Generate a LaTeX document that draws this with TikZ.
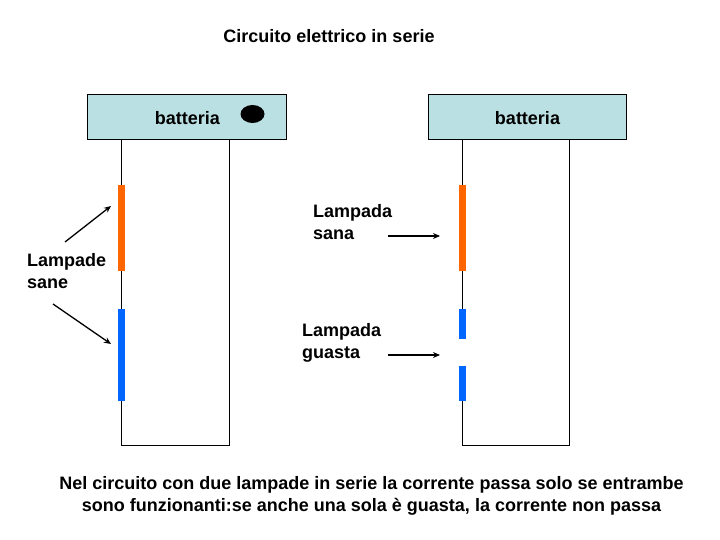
\documentclass[tikz,border=0pt]{standalone}
\usepackage{fontspec}
\setmainfont{Liberation Sans}
\usetikzlibrary{arrows.meta,shapes.geometric}
\definecolor{batfill}{RGB}{187,224,227}
\definecolor{lamporange}{RGB}{255,102,0}
\definecolor{lampblue}{RGB}{0,102,255}
\tikzset{
  x=1pt,y=-1pt,
  batbox/.style={draw=black,line width=0.9pt,fill=batfill,minimum width=#1,minimum height=45pt,inner sep=0pt},
  battxt/.style={font=\fontsize{18}{19}\selectfont\bfseries,inner sep=0pt},
  wire/.style={draw=black,line width=0.9pt},
  lampa/.style={fill=#1,draw=none,minimum width=7pt,inner sep=0pt},
  ptr/.style={draw=black,line width=1.3pt,-{Stealth[length=7pt,width=6pt]}},
  lab/.style={font=\fontsize{18}{22}\selectfont\bfseries,align=left,inner sep=0pt},
  txt/.style={font=\fontsize{18}{21.5}\selectfont\bfseries,align=center,inner sep=0pt}
}
\begin{document}
\begin{tikzpicture}
\useasboundingbox (0,0) rectangle (720,540);
% wires behind
\coordinate (lt) at (121.5,139);
\coordinate (lb) at (121.5,445);
\coordinate (lr) at (229,445);
\coordinate (lrt) at (229,139);
\coordinate (rt) at (462.5,139);
\coordinate (rb) at (462.5,445);
\coordinate (rr) at (569.5,445);
\coordinate (rrt) at (569.5,139);
\draw[wire] (lt) -- (lb) -- (lr) -- (lrt);
\draw[wire] (rt) -- (rb) -- (rr) -- (rrt);
\fill[white] (455,339) rectangle (470,366);
\node[batbox=199pt] (bat1) at (187,116.5) {};
\node[battxt] (bat1t) at (187.5,118) {batteria};
\node[batbox=198pt] (bat2) at (527.5,116.5) {};
\node[battxt] (bat2t) at (527.5,118) {batteria};
\node[ellipse,fill=black,minimum width=24pt,minimum height=18pt,inner sep=0pt] (dot) at (252.5,114) {};
\node[lampa=lamporange,minimum height=86pt] (l1) at (121.5,228) {};
\node[lampa=lampblue,minimum height=92pt] (l2) at (121.5,355) {};
\node[lampa=lamporange,minimum height=86pt] (r1) at (462.5,228) {};
\node[lampa=lampblue,minimum height=30pt] (r2) at (462.5,324) {};
\node[lampa=lampblue,minimum height=35pt] (r3) at (462.5,383.5) {};
\node[txt] (title) at (329,36) {Circuito elettrico in serie};
\node[lab,anchor=north west] (sane) at (27,253) {Lampade\\sane};
\node[lab,anchor=north west] (sana) at (313,204) {Lampada\\sana};
\node[lab,anchor=north west] (guasta) at (302,323) {Lampada\\guasta};
\node[txt] (note) at (371.5,496) {Nel circuito con due lampade in serie la corrente passa solo se entrambe\\sono funzionanti:se anche una sola è guasta, la corrente non passa};
\coordinate (a1s) at (65,242);
\coordinate (a1e) at (111,206);
\coordinate (a2s) at (53,304);
\coordinate (a2e) at (111,344);
\coordinate (a3s) at (388,236);
\coordinate (a3e) at (440,236);
\coordinate (a4s) at (388,355);
\coordinate (a4e) at (440,355);
\draw[ptr] (a1s) -- (a1e);
\draw[ptr] (a2s) -- (a2e);
\draw[ptr] (a3s) -- (a3e);
\draw[ptr] (a4s) -- (a4e);
\end{tikzpicture}
\end{document}
